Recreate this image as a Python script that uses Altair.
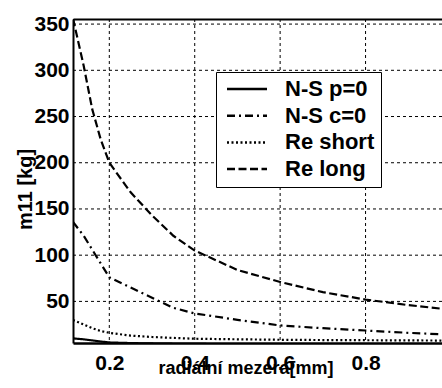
import altair as alt
import pandas as pd

# radial gap [mm]
gap_mm = [0.115, 0.14, 0.16, 0.18, 0.2, 0.25, 0.3, 0.35, 0.4, 0.5, 0.6, 0.7, 0.8, 0.9, 1.0]

# m11 [kg] for each model
ns_p0 = [10, 9, 7.8, 6.6, 5.6, 4.9, 4.5, 4.2, 4.0, 3.8, 3.7, 3.6, 3.5, 3.4, 3.3]
ns_c0 = [136, 121, 106, 91, 76, 65, 54, 43, 37, 30, 24, 21, 18.5, 16, 14]
re_short = [30, 25, 21, 18, 16, 13, 11.5, 10.5, 9.6, 9.0, 8.5, 8.2, 8.0, 7.8, 7.6]
re_long = [356, 305, 258, 225, 200, 168, 143, 121, 105, 84, 71, 60, 52, 46, 41]

series_names = ["N-S p=0", "N-S c=0", "Re short", "Re long"]
series_values = [ns_p0, ns_c0, re_short, re_long]

x_ticks = [0.2, 0.4, 0.6, 0.8]
y_ticks = [50, 100, 150, 200, 250, 300, 350]

rows = []
for name, vals in zip(series_names, series_values):
    for gx, v in zip(gap_mm, vals):
        rows.append({"x": gx, "y": v, "series": name})
df = pd.DataFrame(rows)

FONT = "Liberation Sans"

xscale = alt.Scale(domain=[0.115, 0.979], nice=False, zero=False)
yscale = alt.Scale(domain=[5, 355.5], nice=False, zero=False)

x_axis = alt.Axis(
    values=x_ticks, format=".1f", grid=False, ticks=False,
    domainColor="black", domainWidth=2.5,
    labelFont=FONT, labelFontSize=21, labelFontWeight=700, labelColor="black",
    labelPadding=9, labelFlush=False, labelOverlap=False,
    title="radiální mezera[mm]", titleFont=FONT,
    titleFontSize=18, titleFontWeight=700, titleColor="black",
    titleX=172.5, titleY=30, titleBaseline="alphabetic", titleAlign="center",
)
y_axis = alt.Axis(
    values=y_ticks, grid=False, ticks=False, domainColor="black", domainWidth=2,
    labelFont=FONT, labelFontSize=21, labelFontWeight=700, labelColor="black",
    labelPadding=4, labelOverlap=False, labelFlush=False,
    title="m11 [kg]", titleFont=FONT, titleFontSize=20, titleFontWeight=700,
    titleColor="black", titleAngle=270, titleX=-41.5, titleY=170,
    titleBaseline="alphabetic", titleAlign="center",
)

legend = alt.Legend(
    title=None, orient="none", legendX=143, legendY=53,
    labelFont=FONT, labelFontSize=22, labelFontWeight=700, labelColor="black",
    symbolType="stroke", symbolSize=1600, symbolStrokeWidth=2.5,
    symbolStrokeColor="black", symbolOffset=3.5, labelOffset=16.5,
    padding=6, rowPadding=4.7, clipHeight=22,
    strokeColor="black", fillColor="white",
    labelExpr="datum.label + '    '",
)

grid_x = alt.Chart(pd.DataFrame({"gx": x_ticks})).mark_rule(
    color="black", strokeWidth=1, strokeDash=[3, 3]
).encode(x=alt.X("gx:Q", scale=xscale, axis=None))

grid_y = alt.Chart(pd.DataFrame({"y": y_ticks})).mark_rule(
    color="black", strokeWidth=1, strokeDash=[3, 3]
).encode(y=alt.Y("y:Q", scale=yscale, axis=y_axis))

lines = alt.Chart(df).mark_line(clip=True, strokeWidth=2.2, color="black").encode(
    x=alt.X("x:Q", scale=xscale, axis=x_axis),
    y=alt.Y("y:Q", scale=yscale, axis=y_axis),
    strokeDash=alt.StrokeDash(
        "series:N",
        scale=alt.Scale(domain=series_names,
                        range=[[1, 0], [8, 4, 2, 4], [2, 2.5], [8, 3.5]]),
        legend=legend,
    ),
)

top_border = alt.Chart(df).mark_point(opacity=0).encode(
    x=alt.X("x:Q", scale=xscale,
            axis=alt.Axis(orient="top", labels=False, ticks=False, grid=False,
                          domainColor="black", domainWidth=2, title=None)),
)

chart = alt.layer(grid_x, grid_y, lines, top_border).resolve_axis(
    x="independent"
).properties(
    width=369, height=324,
    autosize=alt.AutoSizeParams(type="none"),
    padding={"left": 73, "top": 19, "right": 0, "bottom": 45},
    background="white",
).configure_view(stroke="transparent")

chart.save("out.html", embed_options={"renderer": "svg", "actions": False})
